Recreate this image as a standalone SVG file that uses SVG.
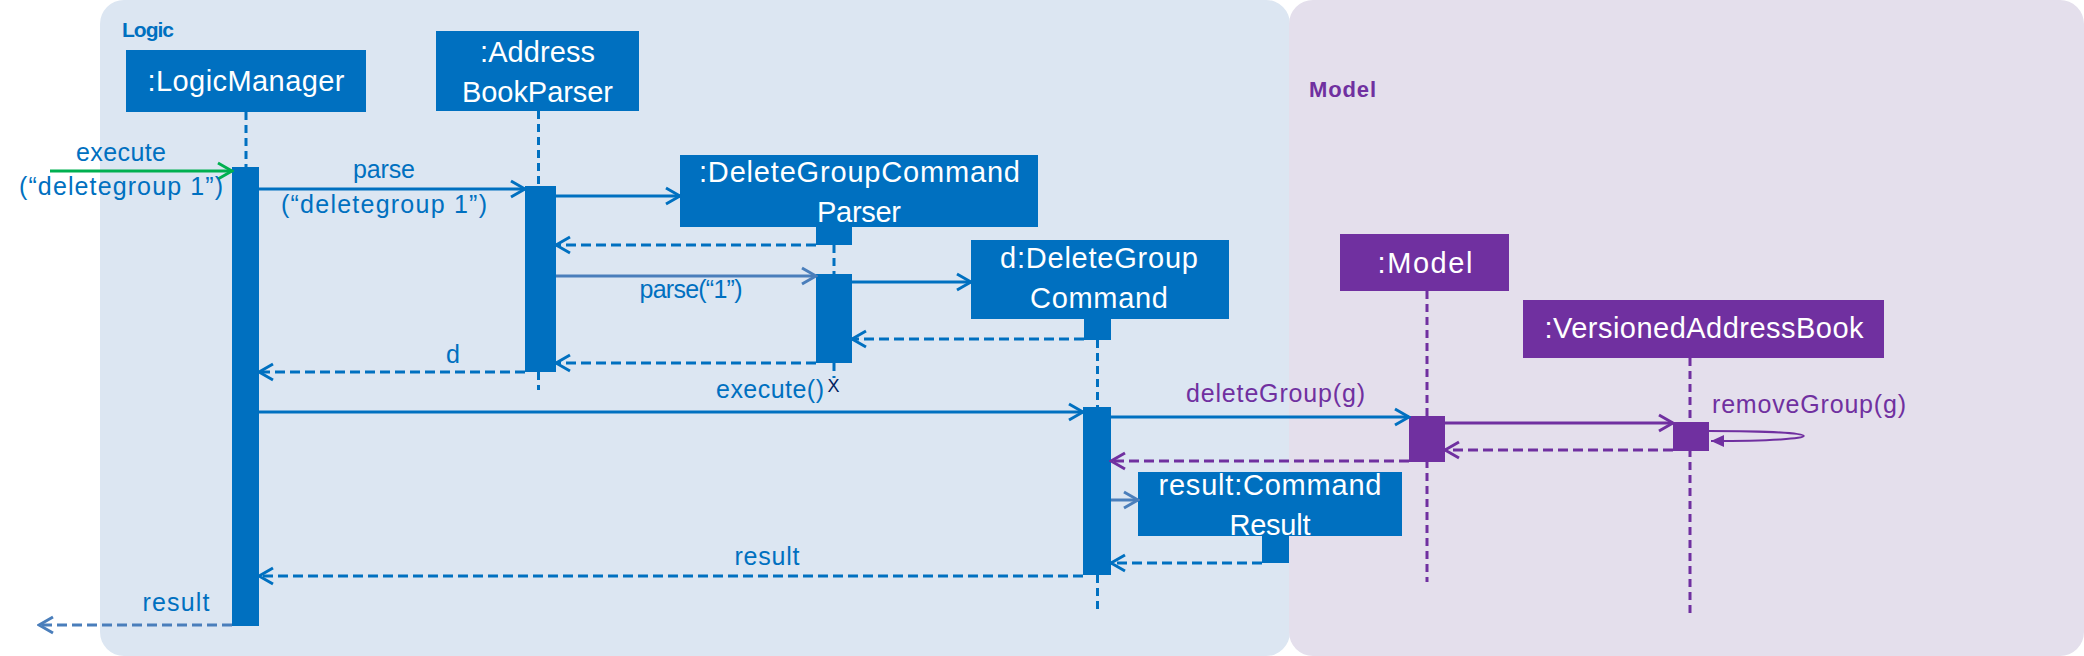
<svg xmlns="http://www.w3.org/2000/svg" width="2084" height="656" viewBox="0 0 2084 656">
<style>
.t{font-family:"Liberation Sans",Arial,sans-serif}
.nt{font-size:29px;fill:#fff;text-anchor:middle}
.lbl{font-size:25px;fill:#0070c0;text-anchor:middle}
.pl{fill:#7030a0}
.box{fill:#0070c0}
.pbox{fill:#7030a0}
.life{stroke:#0070c0;stroke-width:3;stroke-dasharray:8 5;fill:none}
.plife{stroke:#7030a0;stroke-width:3;stroke-dasharray:8 5;fill:none}
.m{stroke:#0070c0;stroke-width:3;fill:none;marker-end:url(#ab)}
.ml{stroke:#4a7ebb;stroke-width:3;fill:none;marker-end:url(#al)}
.mp{stroke:#7030a0;stroke-width:3;fill:none;marker-end:url(#ap)}
.d{stroke-dasharray:10 5}
</style>
<defs>
<marker id="ab" markerUnits="userSpaceOnUse" markerWidth="18" markerHeight="20" viewBox="0 0 18 20" refX="16" refY="10" orient="auto"><path d="M2,2 L16,10 L2,18" fill="none" stroke="#0070c0" stroke-width="3"/></marker>
<marker id="al" markerUnits="userSpaceOnUse" markerWidth="18" markerHeight="20" viewBox="0 0 18 20" refX="16" refY="10" orient="auto"><path d="M2,2 L16,10 L2,18" fill="none" stroke="#4a7ebb" stroke-width="3"/></marker>
<marker id="ag" markerUnits="userSpaceOnUse" markerWidth="18" markerHeight="20" viewBox="0 0 18 20" refX="16" refY="10" orient="auto"><path d="M2,2 L16,10 L2,18" fill="none" stroke="#00b050" stroke-width="3"/></marker>
<marker id="ap" markerUnits="userSpaceOnUse" markerWidth="18" markerHeight="20" viewBox="0 0 18 20" refX="16" refY="10" orient="auto"><path d="M2,2 L16,10 L2,18" fill="none" stroke="#7030a0" stroke-width="3"/></marker>
<marker id="apf" markerUnits="userSpaceOnUse" markerWidth="14" markerHeight="14" viewBox="0 0 14 14" refX="13" refY="7" orient="auto"><path d="M0,1 L13,7 L0,13 Z" fill="#7030a0"/></marker>
</defs>

<g id="panels">
<rect id="logic-panel" x="100" y="0" width="1190" height="656" rx="24" fill="#dce6f2"/>
<rect id="model-panel" x="1289" y="0" width="795" height="656" rx="24" fill="#e4dfec"/>
<text class="t" x="122" y="37" font-size="21" font-weight="bold" fill="#0070c0" textLength="52" lengthAdjust="spacing">Logic</text>
<text class="t" x="1309" y="97" font-size="22" font-weight="bold" fill="#7030a0" textLength="67" lengthAdjust="spacing">Model</text>
</g>

<g id="logicmanager">
<line class="life" x1="246" y1="112" x2="246" y2="167"/>
<rect class="box" x="126" y="50" width="240" height="62"/>
<text class="t nt" x="246" y="91" textLength="197" lengthAdjust="spacing">:LogicManager</text>
<rect class="box" x="232" y="167" width="27" height="459"/>
</g>

<g id="addressbookparser">
<line class="life" x1="538.5" y1="111" x2="538.5" y2="186"/>
<line class="life" x1="538.5" y1="372" x2="538.5" y2="390"/>
<rect class="box" x="436" y="31" width="203" height="80"/>
<text class="t nt" x="537.5" y="62" textLength="115" lengthAdjust="spacing">:Address</text>
<text class="t nt" x="537.5" y="102" textLength="151" lengthAdjust="spacing">BookParser</text>
<rect class="box" x="525" y="186" width="31" height="186"/>
</g>

<g id="deletegroupcommandparser">
<line class="life" x1="834" y1="245" x2="834" y2="274"/>
<line class="life" x1="834" y1="363" x2="834" y2="378"/>
<rect class="box" x="680" y="155" width="358" height="72"/>
<text class="t nt" x="859.5" y="182" textLength="321" lengthAdjust="spacing">:DeleteGroupCommand</text>
<text class="t nt" x="859" y="222" textLength="84" lengthAdjust="spacing">Parser</text>
<rect class="box" x="816" y="227" width="36" height="18"/>
<rect class="box" x="816" y="274" width="36" height="89"/>
<text class="t" x="833.5" y="392" font-size="18" fill="#002060" text-anchor="middle">X</text>
</g>

<g id="deletegroupcommand">
<line class="life" x1="1097.5" y1="340" x2="1097.5" y2="407"/>
<line class="life" x1="1097.5" y1="575" x2="1097.5" y2="613"/>
<rect class="box" x="971" y="240" width="258" height="79"/>
<text class="t nt" x="1099" y="268" textLength="198" lengthAdjust="spacing">d:DeleteGroup</text>
<text class="t nt" x="1099" y="308" textLength="138" lengthAdjust="spacing">Command</text>
<rect class="box" x="1084" y="319" width="27" height="21"/>
<rect class="box" x="1083" y="407" width="28" height="168"/>
</g>

<g id="commandresult">
<rect class="box" x="1138" y="472" width="264" height="64"/>
<text class="t nt" x="1270" y="495" textLength="223" lengthAdjust="spacing">result:Command</text>
<text class="t nt" x="1270" y="535" textLength="81" lengthAdjust="spacing">Result</text>
<rect class="box" x="1262" y="535" width="27" height="28"/>
</g>

<g id="model">
<line class="plife" x1="1427" y1="291" x2="1427" y2="582"/>
<rect class="pbox" x="1340" y="234" width="169" height="57"/>
<text class="t nt" x="1425" y="273" textLength="95" lengthAdjust="spacing">:Model</text>
<rect class="pbox" x="1409" y="416" width="36" height="46"/>
</g>

<g id="versionedaddressbook">
<line class="plife" x1="1690" y1="358" x2="1690" y2="616"/>
<rect class="pbox" x="1523" y="300" width="361" height="58"/>
<text class="t nt" x="1704" y="338" textLength="319" lengthAdjust="spacing">:VersionedAddressBook</text>
<rect class="pbox" x="1673" y="422" width="36" height="29"/>
</g>

<g id="connectors">
<line x1="50" y1="171" x2="232" y2="171" stroke="#00b050" stroke-width="3" marker-end="url(#ag)"/>
<text class="t lbl" x="121" y="161" textLength="90" lengthAdjust="spacing">execute</text>
<text class="t lbl" x="121" y="195" textLength="204" lengthAdjust="spacing">(“deletegroup 1”)</text>

<line class="m" x1="259" y1="189" x2="525" y2="189"/>
<text class="t lbl" x="384" y="178" textLength="62" lengthAdjust="spacing">parse</text>
<text class="t lbl" x="384" y="213" textLength="206" lengthAdjust="spacing">(“deletegroup 1”)</text>

<line class="m" x1="556" y1="196" x2="680" y2="196"/>
<line class="m d" x1="816" y1="245" x2="556" y2="245"/>
<line class="ml" x1="556" y1="276" x2="816" y2="276"/>
<text class="t lbl" x="691" y="298" font-size="21" textLength="103" lengthAdjust="spacing">parse(“1”)</text>
<line class="m" x1="852" y1="282" x2="971" y2="282"/>
<line class="m d" x1="1084" y1="339" x2="852" y2="339"/>
<line class="m d" x1="816" y1="363" x2="556" y2="363"/>
<line class="m d" x1="525" y1="372" x2="259" y2="372"/>
<text class="t lbl" x="453" y="363">d</text>

<line class="m" x1="259" y1="412" x2="1083" y2="412"/>
<text class="t lbl" x="770" y="398" textLength="108" lengthAdjust="spacing">execute()</text>

<line class="m" x1="1111" y1="417" x2="1409" y2="417"/>
<text class="t lbl pl" x="1275.5" y="402" textLength="179" lengthAdjust="spacing">deleteGroup(g)</text>
<line class="mp" x1="1445" y1="423" x2="1673" y2="423"/>
<path d="M1709,431 C1835,431 1835,441 1711,441" fill="none" stroke="#7030a0" stroke-width="2" marker-end="url(#apf)"/>
<text class="t lbl pl" x="1809" y="413" textLength="194" lengthAdjust="spacing">removeGroup(g)</text>
<line class="mp d" x1="1673" y1="450" x2="1445" y2="450"/>
<line class="mp d" x1="1409" y1="461" x2="1111" y2="461"/>

<line class="ml" x1="1111" y1="500" x2="1138" y2="500"/>
<line class="m d" x1="1262" y1="563" x2="1111" y2="563"/>
<line class="m d" x1="1083" y1="576" x2="259" y2="576"/>
<text class="t lbl" x="767" y="565" textLength="65" lengthAdjust="spacing">result</text>
<line class="ml d" x1="232" y1="625" x2="39" y2="625"/>
<text class="t lbl" x="176" y="611" textLength="67" lengthAdjust="spacing">result</text>
</g>
</svg>
